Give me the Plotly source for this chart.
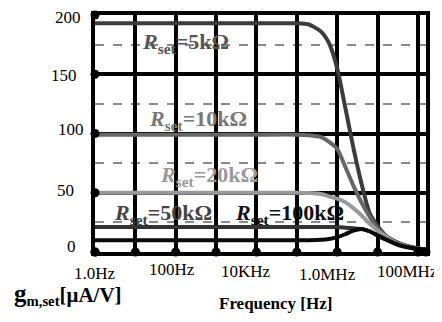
import plotly.graph_objects as go

# log10(frequency / Hz) sample points
log_f = [0, 1, 2, 3, 4, 5, 5.3, 5.6, 5.8, 6.0, 6.2, 6.4, 6.6, 6.8, 7.0, 7.2, 7.5, 7.8, 8.0, 8.2]
freq = [10 ** v for v in log_f]

gm_5k   = [193, 193, 193, 193, 193, 193, 192, 186, 176, 155, 122, 88, 58, 33, 22, 14, 8, 4.5, 3, 2]
gm_10k  = [99, 99, 99, 99, 99, 99, 98.5, 97, 93, 87, 72, 56, 42, 30, 20, 13.5, 7.5, 4.5, 3, 2]
gm_20k  = [50, 50, 50, 50, 50, 50, 49.8, 49, 47, 45, 42, 37, 31, 24, 18, 13, 7, 4, 3, 2]
gm_50k  = [21, 21, 21, 21, 21, 21, 21, 21, 21, 21, 20.5, 20, 19.5, 17.5, 14, 11, 6.5, 4, 3, 2]
gm_100k = [10, 10, 10, 10, 10, 10, 10, 10.3, 11, 12.5, 15, 18, 19.5, 17.5, 14, 10.5, 6, 3.5, 2.5, 2]

series_names = ["5k", "10k", "20k", "50k", "100k"]
series_vals = [gm_5k, gm_10k, gm_20k, gm_50k, gm_100k]
line_colors = ["#3c3c3c", "#666666", "#9a9a9a", "#333333", "#0a0a0a"]
label_colors = ["#555555", "#777777", "#9a9a9a", "#444444", "#111111"]
label_logx = [2.23, 2.55, 2.82, 1.68, 4.83]
label_y = [176, 111, 64, 32, 32]

x_gridvals = [1, 10, 100, 1e3, 1e4, 1e5, 1e6, 1e7, 1e8]
x_ticktext = ["1.0Hz", "100Hz", "10KHz", "1.0MHz", "100MHz"]
x_tick_logpos = [0.0, 1.9, 3.74, 5.77, 7.75]
x_tick_py = [273, 269, 271, 274, 271]
y_tickvals = [0, 50, 100, 150, 200]
y_ticktext = ["0", "50", "100", "150", "200"]
y_tick_right_px = [77, 75, 85, 78, 82]
y_tick_py = [246, 190, 130, 75, 18]
y_minor = [25, 75, 125, 175]

FONT = "Liberation Serif, Times New Roman, serif"
OFF = 8  # default page body margin
W, H = 442 - OFF, 322 - OFF
L, R, T, B = 95 - OFF, 16, 15 - OFF, 70
PH = H - T - B
PW = W - L - R

def py2paper(py):
    return (H - B - (py - OFF)) / PH

def px2paper(px):
    return ((px - OFF) - L) / PW

fig = go.Figure()
for name, vals, col in zip(series_names, series_vals, line_colors):
    fig.add_trace(go.Scatter(x=freq, y=vals, mode="lines", name=name,
                             line=dict(color=col, width=4, shape="spline", smoothing=0.6),
                             showlegend=False, hoverinfo="skip"))

# axis tick dots
fig.add_trace(go.Scatter(x=x_gridvals + [10 ** 8.2], y=[0] * (len(x_gridvals) + 1), mode="markers",
                         marker=dict(color="black", size=9), cliponaxis=False, showlegend=False,
                         hoverinfo="skip"))
fig.add_trace(go.Scatter(x=[1] * len(y_tickvals), y=y_tickvals, mode="markers",
                         marker=dict(color="black", size=9), cliponaxis=False, showlegend=False,
                         hoverinfo="skip"))

for name, col, lx, ly in zip(series_names, label_colors, label_logx, label_y):
    fig.add_annotation(x=lx, y=ly, xref="x", yref="y", showarrow=False,
                       text="<b><i>R</i><sub>set</sub>=%sΩ</b>" % name,
                       font=dict(family=FONT, size=22, color=col))

for txt, lx, py in zip(x_ticktext, x_tick_logpos, x_tick_py):
    fig.add_annotation(x=lx, y=py2paper(py), xref="x", yref="paper", showarrow=False,
                       text=txt, xanchor="center", yanchor="middle",
                       font=dict(family=FONT, size=17, color="black"))

for txt, rx, py in zip(y_ticktext, y_tick_right_px, y_tick_py):
    fig.add_annotation(x=px2paper(rx), y=py2paper(py), xref="paper", yref="paper", showarrow=False,
                       text=txt, xanchor="right", yanchor="middle", borderpad=0,
                       font=dict(family=FONT, size=17, color="black"))

fig.add_annotation(xref="paper", yref="paper", x=px2paper(12), y=py2paper(294),
                   xanchor="left", yanchor="middle", showarrow=False,
                   text="<b><span style='font-size:25px'>g</span><sub>m,set</sub>[μA/V]</b>",
                   font=dict(family=FONT, size=21, color="black"))
fig.add_annotation(xref="paper", yref="paper", x=px2paper(275), y=py2paper(303),
                   xanchor="center", yanchor="middle", showarrow=False,
                   text="<b>Frequency [Hz]</b>",
                   font=dict(family=FONT, size=17, color="black"))

fig.update_layout(
    width=W, height=H,
    margin=dict(l=L, r=R, t=T, b=B, autoexpand=False),
    paper_bgcolor="white", plot_bgcolor="white",
    font=dict(family=FONT, size=16, color="black"),
    xaxis=dict(type="log", range=[0, 8.2], tickvals=x_gridvals, showticklabels=False,
               showgrid=True, gridcolor="black", gridwidth=4,
               showline=True, linecolor="black", linewidth=4, mirror=True,
               ticks="", zeroline=False, automargin=False),
    yaxis=dict(range=[0, 200], tickvals=y_tickvals, showticklabels=False,
               showgrid=True, gridcolor="black", gridwidth=4,
               showline=True, linecolor="black", linewidth=4, mirror=True,
               ticks="", zeroline=False, automargin=False,
               minor=dict(tickvals=y_minor, showgrid=True, gridcolor="#8a8a8a", gridwidth=1.5,
                          griddash="dash")),
)

fig.write_html("out.html")
